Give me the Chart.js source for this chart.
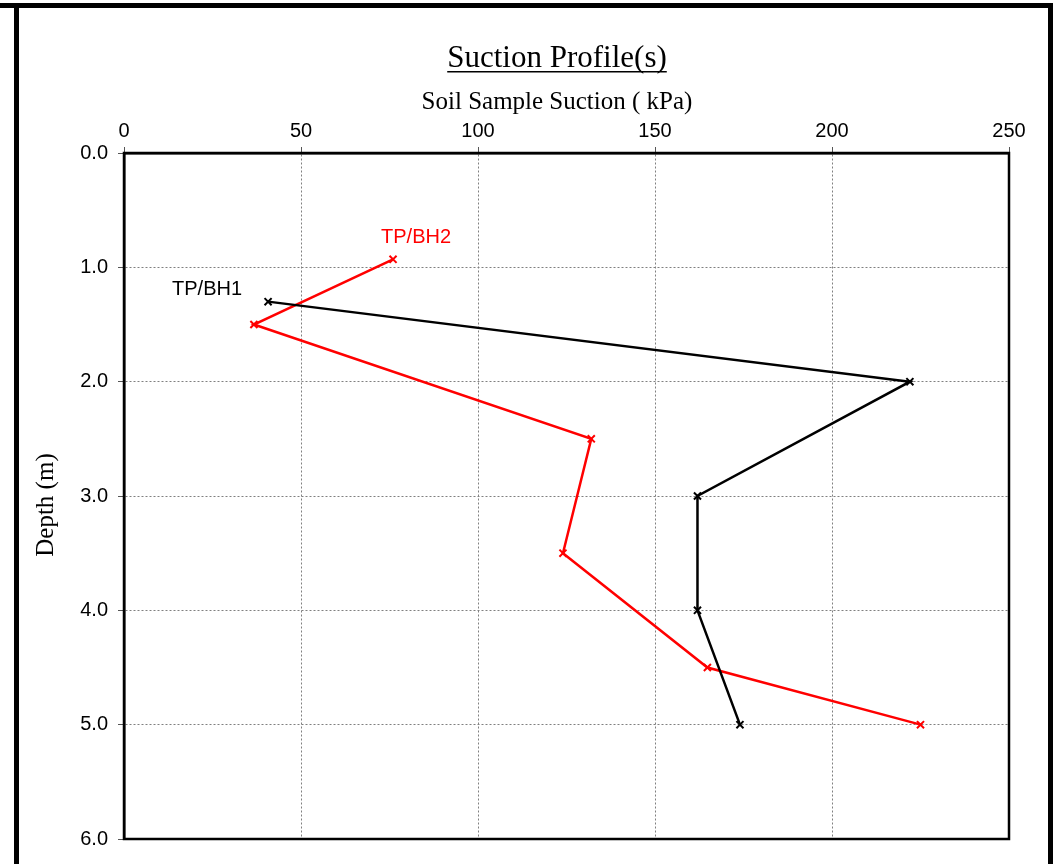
<!DOCTYPE html>
<html>
<head>
<meta charset="utf-8">
<script src="https://cdn.jsdelivr.net/npm/chart.js@4/dist/chart.umd.min.js"></script>
<style>
  html, body { margin: 0; padding: 0; background: #fff; }
  #wrap { width: 1056px; height: 864px; }
</style>
</head>
<body>
<div id="wrap"><canvas id="suctionChart"></canvas></div>
<script>
// suction (kPa) vs depth (m)
const bh1Suction = [40.7, 222, 162, 162, 174];
const bh1Depth = [1.3, 2.0, 3.0, 4.0, 5.0];
const bh2Suction = [76, 36.7, 132, 124, 164.8, 225];
const bh2Depth = [0.93, 1.5, 2.5, 3.5, 4.5, 5.0];
const seriesNames = ['TP/BH1', 'TP/BH2'];
const xTicks = [0, 50, 100, 150, 200, 250];
const yTicks = [0, 1, 2, 3, 4, 5, 6];

function toPoints(xs, ys) {
    return xs.map((x, i) => ({ x: x, y: ys[i] }));
}

// frame, titles, plot border and series labels
const decorPlugin = {
    id: 'decor',
    beforeDraw(chart) {
        const ctx = chart.ctx;
        ctx.save();
        ctx.fillStyle = '#fff';
        ctx.fillRect(0, 0, chart.width, chart.height);
        ctx.restore();
    },
    afterDraw(chart) {
        const ctx = chart.ctx;
        const area = chart.chartArea;
        ctx.save();
        ctx.setLineDash([]);

        // outer frame
        ctx.fillStyle = '#000';
        ctx.fillRect(0, 3, 1053, 5);
        ctx.fillRect(14, 3, 5, chart.height);
        ctx.fillRect(1048, 3, 5, chart.height);

        // plot box
        ctx.strokeStyle = '#000';
        ctx.lineWidth = 2.5;
        ctx.strokeRect(area.left, area.top, area.right - area.left, area.bottom - area.top);

        // main title, underlined
        ctx.fillStyle = '#000';
        ctx.font = '31px "Liberation Serif"';
        ctx.textAlign = 'center';
        ctx.textBaseline = 'alphabetic';
        const title = 'Suction Profile(s)';
        ctx.fillText(title, 557, 67);
        const tw = ctx.measureText(title).width;
        ctx.fillRect(557 - tw / 2, 71, tw, 1.5);

        // axis titles
        ctx.font = '25px "Liberation Serif"';
        ctx.fillText('Soil Sample Suction ( kPa)', 557, 109);
        ctx.textBaseline = 'middle';
        ctx.translate(46, 505);
        ctx.rotate(-Math.PI / 2);
        ctx.fillText('Depth (m)', 0, 0);
        ctx.setTransform(1, 0, 0, 1, 0, 0);

        // series labels next to the first point
        const xs = chart.scales.x, ys = chart.scales.y;
        ctx.font = '20px "Liberation Sans"';
        ctx.fillStyle = '#000';
        ctx.fillText(seriesNames[0], xs.getPixelForValue(bh1Suction[0]) - 61, ys.getPixelForValue(bh1Depth[0]) - 12);
        ctx.fillStyle = '#ff0000';
        ctx.fillText(seriesNames[1], xs.getPixelForValue(bh2Suction[0]) + 23, ys.getPixelForValue(bh2Depth[0]) - 22);

        ctx.restore();
    }
};

const gridStyle = {
    color: '#808080',
    lineWidth: 1,
    tickLength: 6,
    tickColor: '#555',
    tickBorderDash: []
};

const ctx = document.getElementById('suctionChart');
new Chart(ctx, {
    type: 'scatter',
    data: {
        datasets: [
            {
                label: seriesNames[0],
                data: toPoints(bh1Suction, bh1Depth),
                showLine: true,
                borderColor: '#000',
                backgroundColor: '#000',
                borderWidth: 2.5,
                pointStyle: 'crossRot',
                pointRadius: 5,
                pointBorderWidth: 2
            },
            {
                label: seriesNames[1],
                data: toPoints(bh2Suction, bh2Depth),
                showLine: true,
                borderColor: '#ff0000',
                backgroundColor: '#ff0000',
                borderWidth: 2.5,
                pointStyle: 'crossRot',
                pointRadius: 5,
                pointBorderWidth: 2
            }
        ]
    },
    options: {
        responsive: true,
        maintainAspectRatio: false,
        animation: false,
        layout: { padding: { left: 0, top: 0, right: 47, bottom: 25 } },
        plugins: {
            legend: { display: false },
            title: { display: false },
            tooltip: { enabled: false }
        },
        scales: {
            x: {
                type: 'linear',
                position: 'top',
                min: 0,
                max: 250,
                afterBuildTicks: scale => { scale.ticks = xTicks.map(v => ({ value: v })); },
                afterFit: scale => { scale.height = 153; },
                ticks: {
                    color: '#000',
                    font: { family: 'Liberation Sans', size: 20 },
                    padding: 4,
                    maxRotation: 0
                },
                grid: gridStyle,
                border: { display: true, color: '#000', width: 2.5, dash: [2, 2] }
            },
            y: {
                type: 'linear',
                reverse: true,
                min: 0,
                max: 6,
                afterBuildTicks: scale => { scale.ticks = yTicks.map(v => ({ value: v })); },
                afterFit: scale => { scale.width = 124; },
                ticks: {
                    color: '#000',
                    font: { family: 'Liberation Sans', size: 20 },
                    padding: 10,
                    callback: v => Number(v).toFixed(1)
                },
                grid: gridStyle,
                border: { display: true, color: '#000', width: 2.5, dash: [2, 2] }
            }
        }
    },
    plugins: [decorPlugin]
});
</script>
</body>
</html>
